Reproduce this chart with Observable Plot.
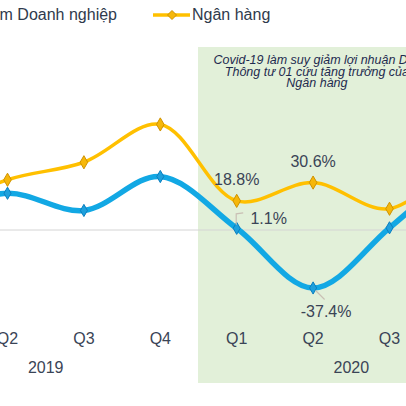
<!DOCTYPE html>
<html>
<head>
<meta charset="utf-8">
<script src="https://cdn.jsdelivr.net/npm/d3@7"></script>
<script src="https://cdn.jsdelivr.net/npm/@observablehq/plot@0.6"></script>
<style>
  html, body { margin: 0; padding: 0; background: #fff; overflow: hidden; width: 406px; height: 406px; }
  body { font-family: "Liberation Sans", Arial, sans-serif; }
  #legend { position: relative; height: 30px; width: 406px; overflow: hidden; }
  #legend .lab { position: absolute; top: 5px; font-size: 16px; color: #2f3a4c; white-space: nowrap; line-height: 19px; }
  #chart svg { overflow: hidden; display: block; }
</style>
</head>
<body>
<div id="legend"></div>
<div id="chart"></div>
<script>
// ---- data ----
const quarters = ["Q1", "Q2", "Q3", "Q4", "Q1", "Q2", "Q3", "Q4"];
const years = ["2019", "2020"];
const doanhNghiep = [10, 23.7, 12.6, 34.5, 1.1, -37.4, 1.4, 45];   // % tăng trưởng lợi nhuận
const nganHang   = [10, 32.4, 43.7, 68.1, 18.8, 30.6, 13.7, 50];
const seriesNames = ["Nhóm Doanh nghiệp", "Ngân hàng"];
const annotation = ["Covid-19 làm suy giảm lợi nhuận DN,", "Thông tư 01 cứu tăng trưởng của", "Ngân hàng"];

// ---- tables ----
const rowsDN = doanhNghiep.map((v, i) => ({i, v}));
const rowsNH = nganHang.map((v, i) => ({i, v}));
const tickRows = quarters.map((q, i) => ({i, q}));
const yearRows = years.map((y, k) => ({i: k * 4 + 1.5, y}));

const BLUE = "#12a8e4", BLUE_D = "#0b7fc0";
const YEL = "#ffc000", YEL_FILL = "#f6b70a", YEL_D = "#cf9200";
const TXT = "#3a4456";

// ---- legend ----
const legend = document.getElementById("legend");
legend.innerHTML = `
  <span class="lab" style="right:${406 - 117}px">${seriesNames[0]}</span>
  <svg width="406" height="30" style="position:absolute;left:0;top:0;pointer-events:none">
    <line x1="153" x2="190" y1="15" y2="15" stroke="${YEL}" stroke-width="3.5"/>
    <path d="M172,10.5 L176.5,15 L172,19.5 L167.5,15 Z" fill="${YEL_FILL}" stroke="${YEL_D}" stroke-width="1"/>
  </svg>
  <span class="lab" style="left:192px">${seriesNames[1]}</span>`;

// ---- leader lines (pixel offsets from the scaled data point) ----
function leaders(index, scales) {
  const g = d3.create("svg:g").attr("fill", "none").attr("stroke", "#c9bfb4").attr("stroke-width", 1.2);
  const x4 = scales.x(4), y4 = scales.y(doanhNghiep[4]);
  g.append("path").attr("d", `M${x4},${y4 - 3}V${y4 - 14}L${x4 + 7},${y4 - 15}`);
  const x5 = scales.x(5), y5 = scales.y(doanhNghiep[5]);
  g.append("path").attr("d", `M${x5 + 3},${y5 + 3}L${x5 + 12},${y5 + 12}`);
  return g.node();
}

const chart = Plot.plot({
  width: 406,
  height: 376,
  marginTop: 17,
  marginBottom: 23,
  marginLeft: 0,
  marginRight: 0,
  x: {type: "linear", domain: [0, 7], range: [-69.4, 465.4], axis: null},
  y: {type: "linear", domain: [-40, 70], range: [261.5, 91], axis: null},
  style: {fontFamily: "'Liberation Sans', Arial, sans-serif", background: "white", overflow: "hidden"},
  marks: [
    Plot.rect([{x1: 3.5, x2: 8}], {x1: "x1", x2: "x2", fill: "#e2f0d9"}),
    Plot.ruleY([0], {stroke: "#d4d4d4", strokeWidth: 1}),
    Plot.text([annotation.join("\n")], {
      x: 5.05, frameAnchor: "top", dy: 8.5, lineAnchor: "top", text: d => d,
      fontSize: 12.5, fontStyle: "italic", fill: "#1e2b4f", lineHeight: 0.92, textAnchor: "middle"
    }),
    Plot.line(rowsNH, {x: "i", y: "v", stroke: YEL, strokeWidth: 3.5, curve: "catmull-rom"}),
    Plot.line(rowsDN, {x: "i", y: "v", stroke: BLUE, strokeWidth: 5.5, curve: "catmull-rom"}),
    Plot.dot(rowsNH, {x: "i", y: "v", symbol: "diamond", r: 4, fill: YEL_FILL, stroke: YEL_D, strokeWidth: 1}),
    Plot.dot(rowsDN, {x: "i", y: "v", symbol: "diamond", r: 3.7, fill: "#1ea0dc", stroke: BLUE_D, strokeWidth: 1}),
    leaders,
    // data labels
    Plot.text([rowsNH[4], rowsNH[5]], {x: "i", y: "v", text: d => d.v.toFixed(1) + "%", dy: -20.5, fontSize: 16, fill: TXT}),
    Plot.text([rowsDN[4]], {x: "i", y: "v", text: d => d.v.toFixed(1) + "%", dx: 32, dy: -9, fontSize: 16, fill: TXT}),
    Plot.text([rowsDN[5]], {x: "i", y: "v", text: d => d.v.toFixed(1) + "%", dx: 13, dy: 24, fontSize: 16, fill: TXT}),
    // category axis
    Plot.text(tickRows, {x: "i", text: "q", frameAnchor: "bottom", dy: -40, fontSize: 16, fill: TXT}),
    Plot.text(yearRows, {x: "i", text: "y", frameAnchor: "bottom", dy: -11, fontSize: 16, fill: TXT})
  ]
});
document.getElementById("chart").appendChild(chart);
</script>
</body>
</html>
